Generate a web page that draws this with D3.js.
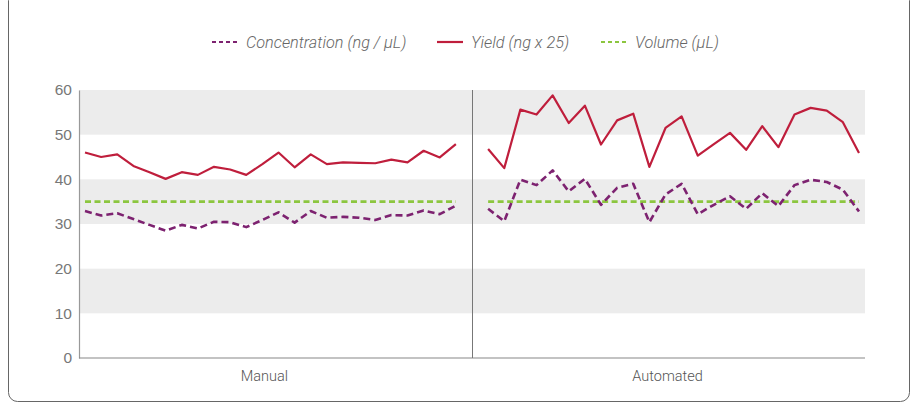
<!DOCTYPE html>
<html>
<head>
<meta charset="utf-8">
<script src="https://cdn.jsdelivr.net/npm/d3@7"></script>
<style>
  body { margin: 0; background: #fff; }
  svg { display: block; font-family: Roboto, "Liberation Sans", sans-serif; }
</style>
</head>
<body>
<svg id="chart" width="917" height="404"></svg>
<script>
// Groups along the x axis, 24 runs each
const groups = ['Manual', 'Automated'];

const manualConc = [32.9, 31.9, 32.4, 31.1, 29.8, 28.5, 29.8, 29.0, 30.5, 30.4, 29.3, 30.9,
  32.6, 30.3, 32.9, 31.4, 31.6, 31.4, 30.9, 32.0, 31.9, 33.0, 32.2, 34.1];
const manualYield = [46.0, 45.0, 45.6, 43.0, 41.6, 40.1, 41.6, 41.0, 42.8, 42.2, 41.0, 43.4,
  46.0, 42.7, 45.6, 43.4, 43.8, 43.7, 43.6, 44.4, 43.8, 46.4, 44.9, 47.9];
const automatedConc = [33.4, 30.6, 39.9, 38.7, 42.0, 37.3, 40.1, 34.3, 38.1, 39.0, 30.4, 36.6,
  39.0, 32.2, 34.3, 36.2, 33.4, 36.9, 34.0, 38.7, 39.9, 39.4, 37.7, 32.8];
const automatedYield = [46.8, 42.5, 55.6, 54.5, 58.8, 52.6, 56.5, 47.8, 53.2, 54.7, 42.8, 51.5,
  54.1, 45.3, 47.9, 50.4, 46.6, 51.9, 47.2, 54.5, 56.0, 55.4, 52.8, 45.9];
const volume = [35, 35];

const yTicks = [0, 10, 20, 30, 40, 50, 60];
const legendLabels = ['Concentration (ng / µL)', 'Yield (ng x 25)', 'Volume (µL)'];

const width = 917;
const margin = {top: 90, right: 52, bottom: 46, left: 79};
const plotRight = width - margin.right;

const svg = d3.select('#chart');

// outer frame, its top edge sits above the picture
svg.append('rect')
    .attr('x', 8.5).attr('y', -8.5)
    .attr('width', 901).attr('height', 410)
    .attr('rx', 9)
    .attr('fill', 'none')
    .attr('stroke', '#666')
    .attr('stroke-width', 1);

// one slot left empty between the two groups
const runs = manualConc.length;
const slots = runs * 2 + 1;
const x = d3.scaleLinear()
    .domain([0, slots - 1])
    .range([85, 859]);

const y = d3.scaleLinear()
    .domain([0, 60])
    .range([358, margin.top]);

const left = margin.left;

// grey bands
const bands = [[10, 20], [30, 40], [50, 60]];
svg.append('g')
    .selectAll('rect')
    .data(bands)
    .join('rect')
    .attr('x', left)
    .attr('width', plotRight - left)
    .attr('y', (d) => y(d[1]))
    .attr('height', (d) => y(d[0]) - y(d[1]))
    .attr('fill', '#ececec');

// y axis
const yAxis = svg.append('g')
    .attr('transform', `translate(${left},0)`)
    .call(d3.axisLeft(y).tickValues(yTicks).tickSize(0).tickPadding(7));
yAxis.select('.domain').attr('stroke', '#999').attr('stroke-width', 1.2);
yAxis.selectAll('text')
    .attr('font-size', 15.5)
    .attr('font-weight', 300)
    .attr('fill', '#777');

// x axis line
svg.append('line')
    .attr('x1', left).attr('x2', plotRight)
    .attr('y1', y(0)).attr('y2', y(0))
    .attr('stroke', '#888')
    .attr('stroke-width', 1.2);

// divider between groups
svg.append('line')
    .attr('x1', x(runs) + 0.5).attr('x2', x(runs) + 0.5)
    .attr('y1', y(60)).attr('y2', y(0))
    .attr('stroke', '#777')
    .attr('stroke-width', 1);

// group labels
svg.append('g')
    .selectAll('text')
    .data(groups)
    .join('text')
    .attr('x', (d, i) => x(i * (runs + 1) + (runs - 1) / 2) - 6)
    .attr('y', 381)
    .attr('text-anchor', 'middle')
    .attr('font-size', 14.5)
    .attr('font-weight', 300)
    .attr('fill', '#555')
    .text((d) => d);

const line = d3.line()
    .x((d) => x(d.i))
    .y((d) => y(d.v));

const toPoints = (vals, offset) => vals.map((v, i) => ({i: i + offset, v: v}));

const series = [
  {vals: [manualConc, automatedConc], color: '#7d2270', width: 2.6, dash: '7,4'},
  {vals: [manualYield, automatedYield], color: '#bf1e3c', width: 2.2, dash: null},
];

// volume first so other lines sit over it
volume.forEach((v, g) => {
  const off = g * (runs + 1);
  svg.append('path')
      .attr('d', line([{i: off, v: v}, {i: off + runs - 1, v: v}]))
      .attr('fill', 'none')
      .attr('stroke', '#8cc63f')
      .attr('stroke-width', 2.6)
      .attr('stroke-dasharray', '6,3.5');
});

series.forEach((s) => {
  s.vals.forEach((vals, g) => {
    svg.append('path')
        .attr('d', line(toPoints(vals, g * (runs + 1))))
        .attr('fill', 'none')
        .attr('stroke', s.color)
        .attr('stroke-width', s.width)
        .attr('stroke-linejoin', 'round')
        .attr('stroke-dasharray', s.dash);
  });
});

// legend
const legendItems = [
  {label: legendLabels[0], color: '#7d2270', dash: '4,3', x: 212},
  {label: legendLabels[1], color: '#bf1e3c', dash: null, x: 437},
  {label: legendLabels[2], color: '#8cc63f', dash: '4,3', x: 601},
];
const legend = svg.append('g');
legendItems.forEach((d) => {
  legend.append('line')
      .attr('x1', d.x).attr('x2', d.x + 26)
      .attr('y1', 42).attr('y2', 42)
      .attr('stroke', d.color)
      .attr('stroke-width', 2.2)
      .attr('stroke-dasharray', d.dash);
  legend.append('text')
      .attr('x', d.x + 34)
      .attr('y', 47.5)
      .attr('font-size', 16.3)
      .attr('font-style', 'italic')
      .attr('font-weight', 300)
      .attr('fill', '#666')
      .text(d.label);
});
</script>
</body>
</html>
